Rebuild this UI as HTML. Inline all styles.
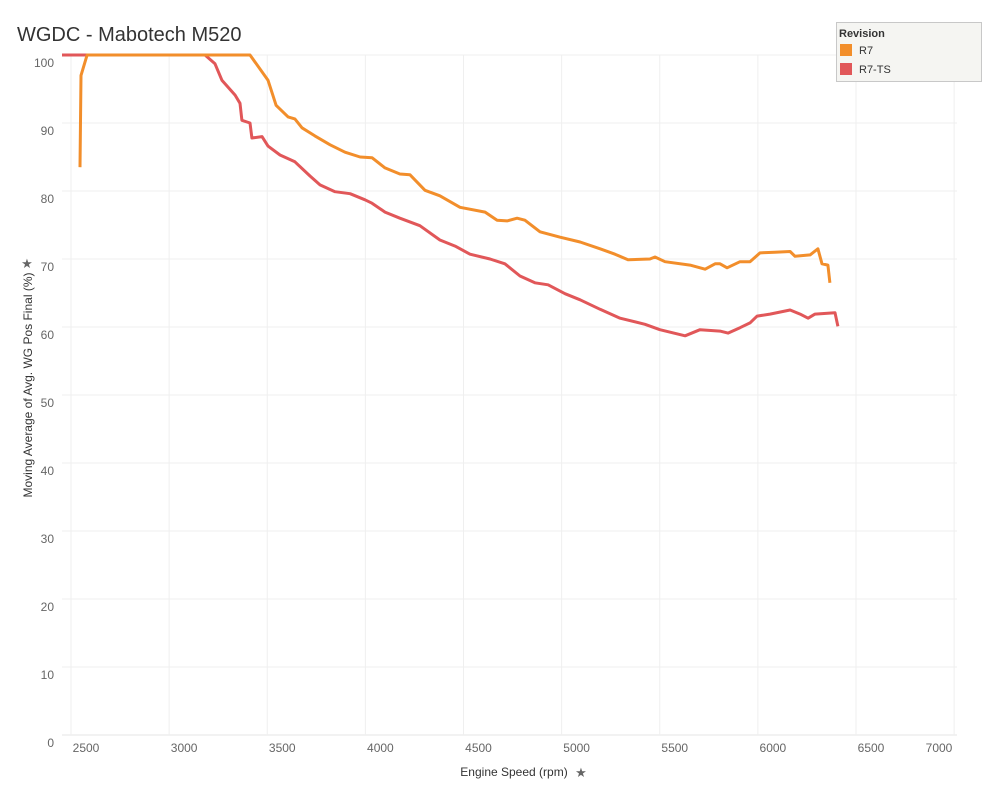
<!DOCTYPE html>
<html><head><meta charset="utf-8"><style>
body{margin:0;background:#fff;font-family:"Liberation Sans",sans-serif}
</style></head><body>
<svg width="1000" height="800" xmlns="http://www.w3.org/2000/svg" font-family="Liberation Sans, sans-serif">
<text x="17" y="41" font-size="20" fill="#333">WGDC - Mabotech M520</text>
<g id="grid"></g>
<g id="yticks"></g>
<g id="xticks"></g>
<g id="series"></g>
<text x="0" y="0" transform="translate(32,385) rotate(-90)" text-anchor="middle" font-size="12" fill="#333">Moving Average of Avg. WG Pos Final (%)</text>
<text x="27" y="268" font-size="13" fill="#666" text-anchor="middle">★</text>
<text x="514" y="776" text-anchor="middle" font-size="12" fill="#333">Engine Speed (rpm)</text>
<text x="581" y="777" font-size="13" fill="#666" text-anchor="middle">★</text>
<g>
<rect x="836.5" y="22.5" width="145" height="59" fill="#f5f5f2" stroke="#c8c8c8"/>
<text x="839" y="37" font-size="11" font-weight="bold" fill="#333">Revision</text>
<g><rect x="840" y="44" width="12" height="12" fill="#f28e2b"/><text x="859" y="54" font-size="11" fill="#333">R7</text></g>
<g><rect x="840" y="63" width="12" height="12" fill="#e15759"/><text x="859" y="73" font-size="11" fill="#333">R7-TS</text></g>
</g>
</svg>
<script>
const xTicks=[2500,3000,3500,4000,4500,5000,5500,6000,6500,7000];
const yTicks=[0,10,20,30,40,50,60,70,80,90,100];
const r7Rpm=[2546,2551,2582,3412,3504,3545,3606,3641,3677,3743,3820,3896,3973,4034,4100,4176,4227,4304,4380,4482,4610,4671,4722,4773,4813,4890,4992,5094,5196,5272,5338,5450,5476,5527,5654,5731,5782,5807,5843,5909,5960,6011,6087,6164,6189,6266,6306,6327,6357,6367];
const r7Val=[83.5,97,100,100,96.3,92.6,90.9,90.6,89.3,88.1,86.8,85.7,85,84.9,83.4,82.5,82.4,80.1,79.3,77.6,76.9,75.7,75.6,76,75.7,74,73.2,72.5,71.5,70.7,69.9,70,70.3,69.6,69.1,68.5,69.3,69.3,68.7,69.6,69.6,70.9,71,71.1,70.4,70.6,71.5,69.3,69.1,66.5];
const tsRpm=[2454,3183,3234,3269,3336,3361,3371,3412,3422,3473,3504,3565,3641,3718,3769,3845,3922,3998,4034,4100,4176,4278,4380,4457,4533,4635,4711,4788,4864,4931,5017,5094,5196,5298,5425,5501,5629,5705,5807,5848,5909,5960,5996,6062,6164,6215,6256,6291,6393,6408];
const tsVal=[100,100,98.7,96.3,94.1,92.9,90.4,90,87.8,88,86.6,85.3,84.3,82.2,80.9,79.9,79.6,78.7,78.2,76.9,76,74.9,72.8,71.9,70.7,70,69.3,67.5,66.5,66.2,64.9,64,62.6,61.3,60.4,59.6,58.7,59.6,59.4,59.1,59.9,60.6,61.6,61.9,62.5,61.9,61.3,61.9,62.1,60.1];
const L=62,R=957,T=55,B=735;
const x=v=>71+(v-2500)*0.19625;
const y=v=>B-v*6.8;
const NS="http://www.w3.org/2000/svg";
function mk(tag,attrs,parent){const e=document.createElementNS(NS,tag);for(const k in attrs)e.setAttribute(k,attrs[k]);parent.appendChild(e);return e;}
const grid=document.getElementById('grid'),yt=document.getElementById('yticks'),xt=document.getElementById('xticks'),ser=document.getElementById('series');
yTicks.forEach(v=>{
 const l=mk('line',{x1:L,x2:R,y1:y(v),y2:y(v),stroke:v===0?'#e6e6e6':'#efefef','stroke-width':1},grid);
 
 
 const t=mk('text',{x:54,y:y(v)+12,'text-anchor':'end','font-size':12,fill:'#666'},yt);
 t.textContent=v;
 
 
});
xTicks.forEach(v=>{
 const l=mk('line',{x1:x(v),x2:x(v),y1:T,y2:B,stroke:'#efefef','stroke-width':1},grid);
 
 
 const t=mk('text',{x:Math.min(x(v)+15,939),y:752,'text-anchor':'middle','font-size':12,fill:'#666'},xt);
 t.textContent=v;
 
 
});
function line(rs,vs,color,name){
 const d=rs.map((r,i)=>(i?'L':'M')+x(r).toFixed(1)+','+y(vs[i]).toFixed(1)).join(' ');
 const p=mk('path',{d:d,fill:'none',stroke:color,'stroke-width':3,'stroke-linejoin':'round'},ser);
 
 
}
line(tsRpm,tsVal,'#e15759','line-r7-ts');
line(r7Rpm,r7Val,'#f28e2b','line-r7');
</script>
</body></html>
